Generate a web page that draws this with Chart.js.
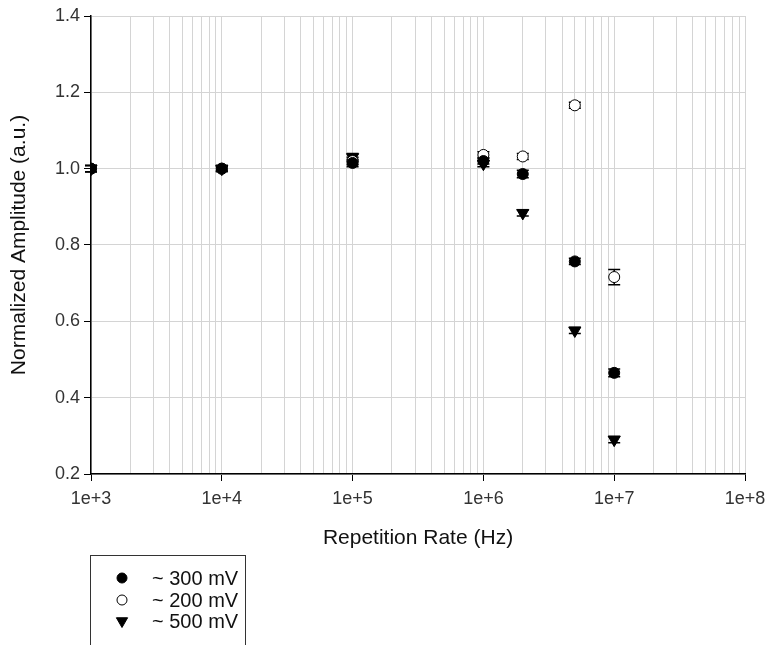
<!DOCTYPE html>
<html>
<head>
<meta charset="utf-8">
<script src="https://cdn.jsdelivr.net/npm/chart.js"></script>
<style>
  body { margin: 0; background: #fff; }
</style>
</head>
<body>
<canvas id="ampChart" width="766" height="645"></canvas>
<script>
const ctx = document.getElementById('ampChart')

// repetition rates (Hz)
const rates = [1e3, 1e4, 1e5, 1e6, 2e6, 5e6, 1e7]

const amp300 = [1.0, 1.0, 1.015, 1.02, 0.986, 0.757, 0.465]
const err300 = [0.008, 0.006, 0.01, 0.008, 0.01, 0.008, 0.01]

const amp200 = [1.0, 1.0, 1.02, 1.036, 1.032, 1.166, 0.716]
const err200 = [0.008, 0.006, 0.01, 0.008, 0.008, 0.008, 0.02]

const amp500 = [1.0, 1.0, 1.03, 1.013, 0.884, 0.576, 0.29]
const err500 = [0.008, 0.008, 0.01, 0.008, 0.008, 0.008, 0.008]

const seriesNames = ['~ 300 mV', '~ 200 mV', '~ 500 mV']

const decades = [1e3, 1e4, 1e5, 1e6, 1e7, 1e8]
const xTickLabels = ['1e+3', '1e+4', '1e+5', '1e+6', '1e+7', '1e+8']
const yTicks = [0.2, 0.4, 0.6, 0.8, 1.0, 1.2, 1.4]

const fontFamily = '"Liberation Sans", Arial, sans-serif'

function toPoints(vals) {
    return rates.map((r, i) => ({ x: r, y: vals[i] }))
}

// all x gridline positions: decades plus 2..9 inside each decade
const xGrid = []
decades.forEach((d, i) => {
    xGrid.push(d)
    if (i < decades.length - 1) {
        for (let k = 2; k <= 9; k++) xGrid.push(d * k)
    }
})

const errorBars = {
    id: 'errorBars',
    beforeDatasetsDraw(chart) {
        const c = chart.ctx
        const xs = chart.scales.x
        const ys = chart.scales.y
        c.save()
        c.strokeStyle = '#000'
        c.lineWidth = 1.5
        chart.data.datasets.forEach(ds => {
            ds.data.forEach((p, i) => {
                const e = ds.errors[i]
                const px = xs.getPixelForValue(p.x)
                const top = ys.getPixelForValue(p.y + e)
                const bot = ys.getPixelForValue(p.y - e)
                c.beginPath()
                c.moveTo(px, top); c.lineTo(px, bot)
                c.moveTo(px - 6, top); c.lineTo(px + 6, top)
                c.moveTo(px - 6, bot); c.lineTo(px + 6, bot)
                c.stroke()
            })
        })
        c.restore()
    }
}

const boxLegend = {
    id: 'boxLegend',
    afterDraw(chart) {
        const c = chart.ctx
        c.save()
        c.strokeStyle = '#333'
        c.lineWidth = 1
        c.strokeRect(90.5, 555.5, 155, 100)
        c.font = '20px ' + fontFamily
        c.textBaseline = 'middle'
        c.textAlign = 'left'
        const rows = [578, 600, 621]
        chart.data.datasets.forEach((ds, i) => {
            c.fillStyle = ds.pointBackgroundColor
            c.strokeStyle = '#000'
            Chart.helpers.drawPoint(c, {
                pointStyle: ds.pointStyle,
                radius: ds.pointStyle === 'triangle' ? 6.5 : 5,
                rotation: ds.pointRotation || 0,
                borderWidth: 1
            }, 122, rows[i])
            c.fillStyle = '#111'
            c.fillText(ds.label, 152, rows[i] + 1)
        })
        c.restore()
    }
}

const chart = new Chart(ctx, {
    type: 'scatter',
    data: {
        datasets: [
            {
                label: seriesNames[0],
                data: toPoints(amp300),
                errors: err300,
                pointStyle: 'circle',
                pointRadius: 5.5,
                pointBackgroundColor: '#000',
                pointBorderColor: '#000',
                pointBorderWidth: 1
            },
            {
                label: seriesNames[1],
                data: toPoints(amp200),
                errors: err200,
                pointStyle: 'circle',
                pointRadius: 5.5,
                pointBackgroundColor: '#fff',
                pointBorderColor: '#000',
                pointBorderWidth: 1
            },
            {
                label: seriesNames[2],
                data: toPoints(amp500),
                errors: err500,
                pointStyle: 'triangle',
                pointRotation: 180,
                pointRadius: 7,
                pointBackgroundColor: '#000',
                pointBorderColor: '#000',
                pointBorderWidth: 1
            }
        ]
    },
    options: {
        responsive: false,
        animation: false,
        layout: {
            padding: { top: 16, right: 21, bottom: 91, left: 0 }
        },
        plugins: {
            legend: { display: false },
            tooltip: { enabled: false }
        },
        scales: {
            x: {
                type: 'logarithmic',
                min: 1e3,
                max: 1e8,
                afterBuildTicks(scale) {
                    scale.ticks = xGrid.map(v => ({ value: v, major: decades.includes(v) }))
                },
                afterFit(scale) {
                    scale.height = 80
                    scale.paddingLeft = 0
                    scale.paddingRight = 0
                },
                ticks: {
                    autoSkip: false,
                    maxRotation: 0,
                    padding: 7,
                    color: '#333',
                    font: { family: fontFamily, size: 18 },
                    callback(value) {
                        const k = decades.indexOf(value)
                        return k >= 0 ? xTickLabels[k] : ''
                    }
                },
                grid: {
                    color: '#d4d4d4',
                    lineWidth: 1,
                    tickLength: 7,
                    tickColor: c => decades.includes(c.tick.value) ? '#000' : 'rgba(0,0,0,0)'
                },
                border: { color: '#000', width: 1.5 },
                title: {
                    display: true,
                    text: 'Repetition Rate (Hz)',
                    color: '#111',
                    font: { family: fontFamily, size: 21 },
                    padding: { top: 4, bottom: 3 }
                }
            },
            y: {
                min: 0.2,
                max: 1.4,
                afterBuildTicks(scale) {
                    scale.ticks = yTicks.map(v => ({ value: v }))
                },
                afterFit(scale) {
                    scale.width = 91
                    scale.paddingTop = 0
                    scale.paddingBottom = 0
                },
                ticks: {
                    padding: 4,
                    color: '#333',
                    font: { family: fontFamily, size: 18 },
                    callback: v => v.toFixed(1)
                },
                grid: {
                    color: '#d4d4d4',
                    lineWidth: 1,
                    tickLength: 7,
                    tickColor: '#000'
                },
                border: { color: '#000', width: 1.5 },
                title: {
                    display: true,
                    text: 'Normalized Amplitude (a.u.)',
                    color: '#111',
                    font: { family: fontFamily, size: 21 },
                    padding: { top: 7, bottom: 4 }
                }
            }
        }
    },
    plugins: [errorBars, boxLegend]
});
</script>
</body>
</html>
